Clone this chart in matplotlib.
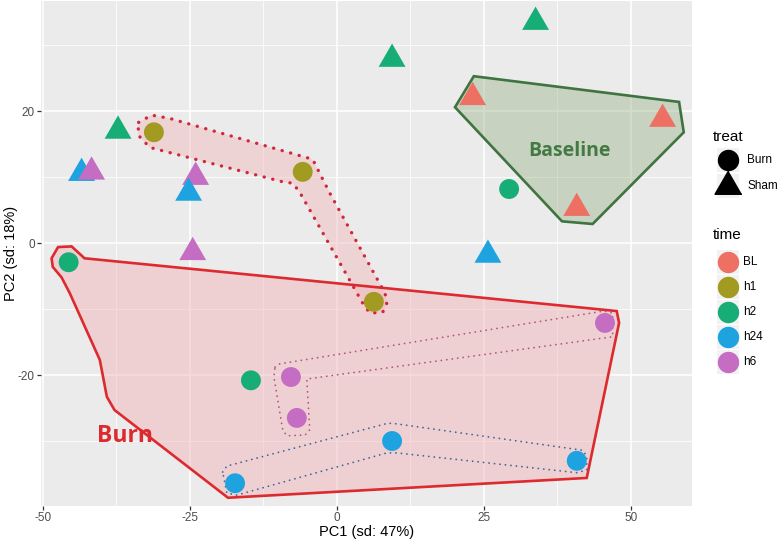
import matplotlib
matplotlib.use("Agg")
import matplotlib.pyplot as plt
from matplotlib.patches import Polygon, Rectangle
from matplotlib.lines import Line2D
import numpy as np

plt.rcParams['font.family'] = ['Liberation Sans', 'DejaVu Sans']
plt.rcParams['axes.unicode_minus'] = False

# ---- data ----
time_levels = ["BL", "h1", "h2", "h24", "h6"]
time_colors = ["#EE7062", "#A39A22", "#17AD76", "#1EA3E0", "#C56DC2"]

# Sham (triangles)
sham_time = ["h2", "h2", "h2", "BL", "BL", "BL", "h24", "h6", "h6", "h24", "h6", "h24"]
sham_pc1 = [33.8, 9.4, -37.2, 23.1, 55.4, 40.8, -43.4, -41.7, -24.0, -25.2, -24.5, 25.7]
sham_pc2 = [33.5, 27.9, 17.0, 22.1, 18.8, 5.3, 10.6, 10.8, 10.0, 7.6, -1.4, -1.8]

# Burn (circles)
burn_time = ["h1", "h1", "h1", "h2", "h2", "h2", "h6", "h6", "h6", "h24", "h24", "h24"]
burn_pc1 = [-31.1, -5.8, 6.3, -45.6, 29.3, -14.6, 45.6, -7.8, -6.8, 9.4, -17.3, 40.8]
burn_pc2 = [16.8, 10.8, -8.9, -2.9, 8.2, -20.8, -12.1, -20.3, -26.5, -30.0, -36.4, -33.0]

# hull annotations
baseline_hull_x = [23.3, 58.2, 59.0, 43.5, 38.3, 20.1]
baseline_hull_y = [25.3, 21.4, 16.8, 2.9, 3.3, 20.6]
burn_hull_x = [-48.5, -47.4, -45.1, -42.9, 47.6, 48.0, 42.5, -18.5, -37.8, -39.1, -40.3, -45.4, -46.8, -48.3]
burn_hull_y = [-2.3, -0.6, -0.5, -2.3, -10.3, -12.1, -35.6, -38.6, -25.3, -23.3, -17.7, -7.6, -5.2, -3.6]
h1_hull_x = [-33.7, -31.5, -28.4, -4.1, -3.2, -1.2, 8.2, 8.5, 7.8, 5.6, 4.4, -6.3, -7.5, -8.8, -31.8, -33.8]
h1_hull_y = [18.3, 19.4, 18.9, 12.7, 11.1, 7.6, -7.6, -9.1, -10.5, -10.6, -9.1, 7.7, 9.1, 9.2, 14.5, 16.4]
h6_hull_x = [-10.5, -9.7, 45.4, 46.9, 46.9, -5.1, -4.6, -5.4, -8.5, -9.2, -10.7]
h6_hull_y = [-18.8, -18.3, -10.3, -10.6, -14.2, -20.6, -28.3, -29.1, -29.2, -28.3, -20.3]
h24_hull_x = [-19.4, -18.7, 8.7, 10.2, 41.8, 42.5, 42.5, 40.8, 10.2, 8.5, -17.0, -18.7]
h24_hull_y = [-34.7, -33.8, -27.3, -27.4, -31.4, -32.3, -34.4, -34.8, -31.8, -31.8, -38.2, -37.9]

x_ticks = [-50, -25, 0, 25, 50]
y_ticks = [-20, 0, 20]
x_label = "PC1 (sd: 47%)"
y_label = "PC2 (sd: 18%)"

# ---- figure ----
W, H = 780, 541
fig = plt.figure(figsize=(W / 100, H / 100), dpi=100)
px_l, px_r, px_t, px_b = 41, 692, 1, 506
ax = fig.add_axes([px_l / W, 1 - px_b / H, (px_r - px_l) / W, (px_b - px_t) / H])
ax.set_xlim(-50.3, 60.4)
ax.set_ylim(-39.85, 36.7)
ax.set_facecolor("#EBEBEB")
for s in ax.spines.values():
    s.set_visible(False)
ax.set_xticks(x_ticks)
ax.set_yticks(y_ticks)
ax.set_xticks([-37.5, -12.5, 12.5, 37.5], minor=True)
ax.set_yticks([-30, -10, 10, 30], minor=True)
ax.grid(True, which="major", color="white", lw=1.1)
ax.grid(True, which="minor", color="white", lw=0.55)
ax.set_axisbelow(True)
ax.tick_params(which="major", length=3, width=0.9, color="#333333", labelsize=8.5,
               labelcolor="#4D4D4D", pad=1.5)
ax.tick_params(which="minor", length=0)

def fx(px):
    return px / W

def fy(py):
    return 1 - py / H

fig.text(fx((px_l + px_r) / 2), fy(532), x_label, fontsize=10.5, ha="center", va="center")
fig.text(fx(11), fy((px_t + px_b) / 2), y_label, fontsize=10.5, ha="center", va="center",
         rotation=90)

# hulls
ax.add_patch(Polygon(np.column_stack([burn_hull_x, burn_hull_y]), closed=True,
                     facecolor="#F2B7BC", alpha=0.5, edgecolor="none", zorder=1))
ax.add_patch(Polygon(np.column_stack([burn_hull_x, burn_hull_y]), closed=True,
                     facecolor="none", edgecolor="#DD2A2E", lw=1.9, zorder=4))
ax.add_patch(Polygon(np.column_stack([baseline_hull_x, baseline_hull_y]), closed=True,
                     facecolor="#9DB68C", alpha=0.45, edgecolor="none", zorder=1))
ax.add_patch(Polygon(np.column_stack([baseline_hull_x, baseline_hull_y]), closed=True,
                     facecolor="none", edgecolor="#3F7340", lw=1.9, zorder=4))
ax.add_patch(Polygon(np.column_stack([h1_hull_x, h1_hull_y]), closed=True,
                     facecolor="#F2B7BC", alpha=0.45, edgecolor="none", zorder=1.5))
hp = Polygon(np.column_stack([h1_hull_x, h1_hull_y]), closed=True, facecolor="none",
             edgecolor="#D0283A", lw=2.4, zorder=4, linestyle=(0, (0.05, 2.6)))
hp.set_capstyle("round")
ax.add_patch(hp)
hp6 = Polygon(np.column_stack([h6_hull_x, h6_hull_y]), closed=True, facecolor="none",
              edgecolor="#B0567E", lw=1.3, zorder=4, linestyle=(0, (0.05, 3.0)))
hp6.set_capstyle("round")
ax.add_patch(hp6)
hp24 = Polygon(np.column_stack([h24_hull_x, h24_hull_y]), closed=True, facecolor="none",
               edgecolor="#3C6699", lw=1.3, zorder=4, linestyle=(0, (0.05, 3.0)))
hp24.set_capstyle("round")
ax.add_patch(hp24)

# markers
cmap = dict(zip(time_levels, time_colors))
tri = [(0, 1), (-0.866, -0.5), (0.866, -0.5)]
ax.scatter(sham_pc1, sham_pc2, s=500, marker=tri, c=[cmap[t] for t in sham_time],
           edgecolors="none", zorder=5)
ax.scatter(burn_pc1, burn_pc2, s=205, marker="o", c=[cmap[t] for t in burn_time],
           edgecolors="none", zorder=5)

# labels
ax.text(-36.1, -29.2, "Burn", color="#DD2A2E", fontsize=16.5, fontweight="bold",
        family=["Open Sans", "DejaVu Sans"], ha="center", va="center", zorder=6)
ax.text(39.6, 13.9, "Baseline", color="#437A44", fontsize=14, fontweight="bold",
        family=["Open Sans", "DejaVu Sans"], ha="center", va="center", zorder=6)

# ---- legend (manual) ----
fig.text(fx(713), fy(137), "treat", fontsize=11, ha="left", va="center")
key_x = 728
for (label, py, mk, ms) in [("Burn", 160, "o", 14.4), ("Sham", 186, tri, 22.4)]:
    fig.patches.append(Rectangle((fx(key_x - 11), fy(py + 12)), 22 / W, 24 / H,
                                 transform=fig.transFigure, facecolor="#F2F2F2", edgecolor="none"))
    fig.add_artist(Line2D([fx(key_x)], [fy(py)], marker=mk, markersize=ms, color="black",
                          linestyle="none", transform=fig.transFigure))
    fig.text(fx(747), fy(py), label, fontsize=8.5, ha="left", va="center")

fig.text(fx(713), fy(235), "time", fontsize=11, ha="left", va="center")
for i, (lv, col) in enumerate(zip(time_levels, time_colors)):
    py = 262 + i * 25
    fig.patches.append(Rectangle((fx(key_x - 11), fy(py + 12)), 22 / W, 24 / H,
                                 transform=fig.transFigure, facecolor="#F2F2F2", edgecolor="none"))
    fig.add_artist(Line2D([fx(key_x)], [fy(py)], marker="o", markersize=14.4, color=col,
                          linestyle="none", transform=fig.transFigure))
    fig.text(fx(743), fy(py), lv, fontsize=8.5, ha="left", va="center")

fig.savefig("out.png", dpi=100)
